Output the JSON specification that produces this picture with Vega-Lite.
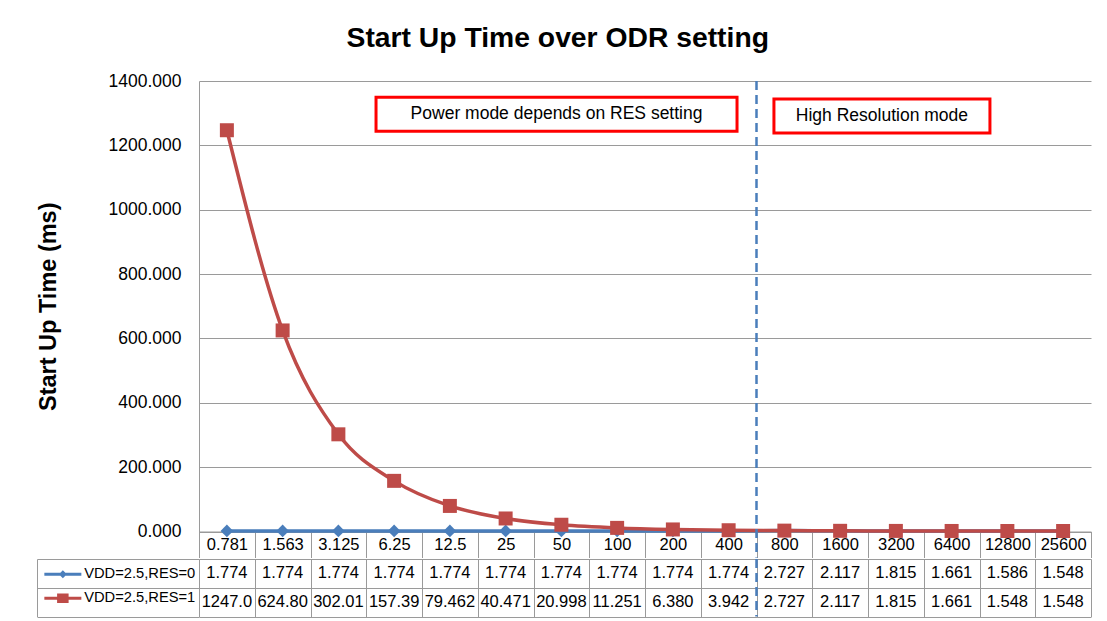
{
  "$schema": "https://vega.github.io/schema/vega-lite/v6.json",
  "background": "white",
  "padding": {"left": 36, "top": 24, "right": 0, "bottom": 0},
  "spacing": -2.5,
  "config": {"view": {"stroke": null}, "font": "Liberation Sans"},
  "title": {"text": "Start Up Time over ODR setting", "fontSize": 28.3, "fontWeight": "bold", "font": "Liberation Sans", "color": "black", "anchor": "middle", "frame": "bounds", "offset": 18.7, "dx": -6},
  "datasets": {
    "main": [
      {"odr": "0.781", "series": "VDD=2.5,RES=0", "value": 1.774, "label": "1.774"},
      {"odr": "1.563", "series": "VDD=2.5,RES=0", "value": 1.774, "label": "1.774"},
      {"odr": "3.125", "series": "VDD=2.5,RES=0", "value": 1.774, "label": "1.774"},
      {"odr": "6.25", "series": "VDD=2.5,RES=0", "value": 1.774, "label": "1.774"},
      {"odr": "12.5", "series": "VDD=2.5,RES=0", "value": 1.774, "label": "1.774"},
      {"odr": "25", "series": "VDD=2.5,RES=0", "value": 1.774, "label": "1.774"},
      {"odr": "50", "series": "VDD=2.5,RES=0", "value": 1.774, "label": "1.774"},
      {"odr": "100", "series": "VDD=2.5,RES=0", "value": 1.774, "label": "1.774"},
      {"odr": "200", "series": "VDD=2.5,RES=0", "value": 1.774, "label": "1.774"},
      {"odr": "400", "series": "VDD=2.5,RES=0", "value": 1.774, "label": "1.774"},
      {"odr": "800", "series": "VDD=2.5,RES=0", "value": 2.727, "label": "2.727"},
      {"odr": "1600", "series": "VDD=2.5,RES=0", "value": 2.117, "label": "2.117"},
      {"odr": "3200", "series": "VDD=2.5,RES=0", "value": 1.815, "label": "1.815"},
      {"odr": "6400", "series": "VDD=2.5,RES=0", "value": 1.661, "label": "1.661"},
      {"odr": "12800", "series": "VDD=2.5,RES=0", "value": 1.586, "label": "1.586"},
      {"odr": "25600", "series": "VDD=2.5,RES=0", "value": 1.548, "label": "1.548"},
      {"odr": "0.781", "series": "VDD=2.5,RES=1", "value": 1247.0, "label": "1247.0"},
      {"odr": "1.563", "series": "VDD=2.5,RES=1", "value": 624.80, "label": "624.80"},
      {"odr": "3.125", "series": "VDD=2.5,RES=1", "value": 302.01, "label": "302.01"},
      {"odr": "6.25", "series": "VDD=2.5,RES=1", "value": 157.39, "label": "157.39"},
      {"odr": "12.5", "series": "VDD=2.5,RES=1", "value": 79.462, "label": "79.462"},
      {"odr": "25", "series": "VDD=2.5,RES=1", "value": 40.471, "label": "40.471"},
      {"odr": "50", "series": "VDD=2.5,RES=1", "value": 20.998, "label": "20.998"},
      {"odr": "100", "series": "VDD=2.5,RES=1", "value": 11.251, "label": "11.251"},
      {"odr": "200", "series": "VDD=2.5,RES=1", "value": 6.380, "label": "6.380"},
      {"odr": "400", "series": "VDD=2.5,RES=1", "value": 3.942, "label": "3.942"},
      {"odr": "800", "series": "VDD=2.5,RES=1", "value": 2.727, "label": "2.727"},
      {"odr": "1600", "series": "VDD=2.5,RES=1", "value": 2.117, "label": "2.117"},
      {"odr": "3200", "series": "VDD=2.5,RES=1", "value": 1.815, "label": "1.815"},
      {"odr": "6400", "series": "VDD=2.5,RES=1", "value": 1.661, "label": "1.661"},
      {"odr": "12800", "series": "VDD=2.5,RES=1", "value": 1.548, "label": "1.548"},
      {"odr": "25600", "series": "VDD=2.5,RES=1", "value": 1.548, "label": "1.548"}
    ]
  },
  "resolve": {
    "scale": {"shape": "independent"},
    "legend": {"shape": "independent", "color": "independent", "fill": "independent"}
  },
  "vconcat": [
    {
      "width": 892,
      "height": 450.5,
      "data": {"name": "main"},
      "encoding": {
        "x": {
          "field": "odr", "type": "ordinal",
          "sort": ["0.781","1.563","3.125","6.25","12.5","25","50","100","200","400","800","1600","3200","6400","12800","25600"],
          "scale": {"type": "band", "paddingInner": 0, "paddingOuter": 0},
          "axis": {"title": null, "orient": "bottom", "labelAngle": 0, "labelFontSize": 16.5, "labelColor": "black", "labelFont": "Liberation Sans", "labelBaseline": "middle", "labelPadding": -13, "tickBand": "extent", "tickSize": 26, "tickColor": "#9a9a9a", "domainColor": "#9a9a9a", "grid": false}
        },
        "y": {
          "field": "value", "type": "quantitative",
          "scale": {"domain": [0, 1400], "nice": false, "zero": true},
          "axis": {"values": [0, 200, 400, 600, 800, 1000, 1200, 1400], "format": ".3f", "title": "Start Up Time (ms)", "titleFontSize": 23.5, "titleFontWeight": "bold", "titleColor": "black", "titleFont": "Liberation Sans", "titlePadding": 48, "labelFontSize": 17.5, "labelColor": "black", "labelFont": "Liberation Sans", "labelPadding": 18, "ticks": false, "domainColor": "#9a9a9a", "grid": true, "gridColor": "#9a9a9a"}
        }
      },
      "layer": [
        {
          "mark": {"type": "line", "interpolate": "monotone", "strokeWidth": 3.5},
          "encoding": {
            "color": {"field": "series", "type": "nominal", "scale": {"domain": ["VDD=2.5,RES=0", "VDD=2.5,RES=1"], "range": ["#4A7EBB", "#BE4B48"]}, "legend": null}
          }
        },
        {
          "mark": {"type": "point", "filled": true, "opacity": 1},
          "encoding": {
            "color": {"field": "series", "type": "nominal", "scale": {"domain": ["VDD=2.5,RES=0", "VDD=2.5,RES=1"], "range": ["#4A7EBB", "#BE4B48"]}, "legend": null},
            "shape": {"field": "series", "type": "nominal", "scale": {"domain": ["VDD=2.5,RES=0", "VDD=2.5,RES=1"], "range": ["diamond", "square"]}, "legend": null},
            "size": {"field": "series", "type": "nominal", "scale": {"domain": ["VDD=2.5,RES=0", "VDD=2.5,RES=1"], "range": [160, 196]}, "legend": null}
          }
        },
        {
          "data": {"values": [{"odr": "800", "top": 1400, "bottom": -81}]},
          "mark": {"type": "rule", "strokeDash": [9, 5], "color": "#4A7EBB", "strokeWidth": 2.5},
          "encoding": {
            "x": {"field": "odr", "type": "ordinal", "bandPosition": 0, "sort": ["0.781","1.563","3.125","6.25","12.5","25","50","100","200","400","800","1600","3200","6400","12800","25600"]},
            "y": {"field": "top", "type": "quantitative"},
            "y2": {"field": "bottom"}
          }
        },
        {
          "data": {"values": [{"odr": "50", "value": 1297, "note": "Power mode depends on RES setting"}]},
          "encoding": {
            "x": {"field": "odr", "type": "ordinal", "bandPosition": 0.413, "sort": ["0.781","1.563","3.125","6.25","12.5","25","50","100","200","400","800","1600","3200","6400","12800","25600"]}
          },
          "layer": [
            {"mark": {"type": "point", "shape": "M-1,-0.0942H1V0.0942H-1Z", "size": 130321, "filled": true, "fill": "white", "stroke": "#FF0000", "strokeWidth": 3, "opacity": 1}},
            {"mark": {"type": "text", "fontSize": 17.5, "font": "Liberation Sans", "color": "black"}, "encoding": {"text": {"field": "note"}}}
          ]
        },
        {
          "data": {"values": [{"odr": "3200", "value": 1291, "note": "High Resolution mode"}]},
          "encoding": {
            "x": {"field": "odr", "type": "ordinal", "bandPosition": 0.25, "sort": ["0.781","1.563","3.125","6.25","12.5","25","50","100","200","400","800","1600","3200","6400","12800","25600"]}
          },
          "layer": [
            {"mark": {"type": "point", "shape": "M-1,-0.157H1V0.157H-1Z", "size": 46656, "filled": true, "fill": "white", "stroke": "#FF0000", "strokeWidth": 3, "opacity": 1}},
            {"mark": {"type": "text", "fontSize": 17.5, "font": "Liberation Sans", "color": "black"}, "encoding": {"text": {"field": "note"}}}
          ]
        }
      ]
    },
    {
      "width": 892,
      "height": 57.5,
      "data": {"name": "main"},
      "layer": [
        {
          "mark": {"type": "text", "fontSize": 16.5, "font": "Liberation Sans", "color": "black"},
          "encoding": {
            "x": {
              "field": "odr", "type": "ordinal",
              "sort": ["0.781","1.563","3.125","6.25","12.5","25","50","100","200","400","800","1600","3200","6400","12800","25600"],
              "scale": {"type": "band", "paddingInner": 0, "paddingOuter": 0},
              "axis": {"title": null, "orient": "top", "labels": false, "ticks": false, "domain": false, "grid": true, "gridColor": "#9a9a9a", "tickBand": "extent"}
            },
            "y": {
              "field": "series", "type": "nominal",
              "sort": ["VDD=2.5,RES=0", "VDD=2.5,RES=1"],
              "scale": {"type": "band", "paddingInner": 0, "paddingOuter": 0},
              "axis": {"title": null, "labels": false, "offset": 162, "tickSize": -162, "tickBand": "extent", "tickColor": "#9a9a9a", "domain": true, "domainColor": "#9a9a9a", "grid": true, "gridColor": "#9a9a9a"}
            },
            "text": {"field": "label"}
          }
        },
        {
          "mark": {"type": "point", "filled": true, "size": 0, "opacity": 1},
          "encoding": {
            "x": {"field": "odr", "type": "ordinal", "sort": ["0.781","1.563","3.125","6.25","12.5","25","50","100","200","400","800","1600","3200","6400","12800","25600"]},
            "y": {"field": "series", "type": "nominal", "sort": ["VDD=2.5,RES=0", "VDD=2.5,RES=1"]},
            "fill": {"field": "series", "type": "nominal", "scale": {"domain": ["VDD=2.5,RES=0", "VDD=2.5,RES=1"], "range": ["#4A7EBB", "#BE4B48"]},
              "legend": {"orient": "none", "legendX": -143.5, "legendY": 8, "title": null, "labelFontSize": 14.7, "labelFont": "Liberation Sans", "labelColor": "black", "labelOffset": 14, "rowPadding": 8, "symbolStrokeWidth": 0, "symbolOpacity": 1, "symbolSize": 100, "padding": 0, "labelLimit": 250}},
            "shape": {"field": "series", "type": "nominal", "scale": {"domain": ["VDD=2.5,RES=0", "VDD=2.5,RES=1"], "range": ["M-3.7,-0.3L3.7,-0.3L3.7,0.3L-3.7,0.3ZM0,-0.8L0.8,0L0,0.8L-0.8,0Z", "M-3.7,-0.3L3.7,-0.3L3.7,0.3L-3.7,0.3ZM-1.15,-0.95L1.15,-0.95L1.15,0.95L-1.15,0.95Z"]}}
          }
        },
        {
          "data": {"values": [{"odr": "800"}]},
          "mark": {"type": "rule", "strokeDash": [9, 5], "color": "#4A7EBB", "strokeWidth": 2.5},
          "encoding": {
            "x": {"field": "odr", "type": "ordinal", "bandPosition": 0, "sort": ["0.781","1.563","3.125","6.25","12.5","25","50","100","200","400","800","1600","3200","6400","12800","25600"]}
          }
        }
      ]
    }
  ]
}
